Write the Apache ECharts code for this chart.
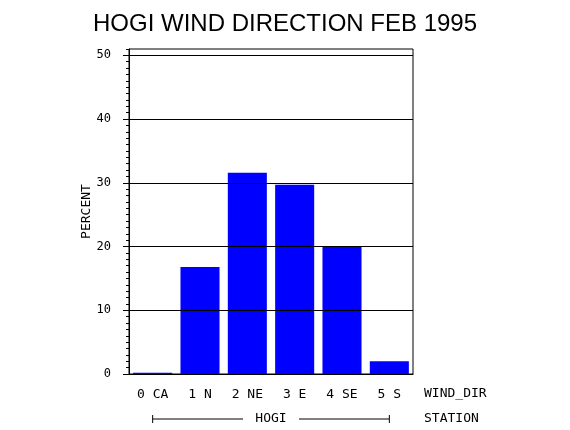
<!DOCTYPE html>
<html>
<head>
<meta charset="utf-8">
<script src="https://cdn.jsdelivr.net/npm/echarts@6/dist/echarts.min.js"></script>
<style>
  html, body { margin: 0; padding: 0; background: #fff; }
  #main { width: 570px; height: 430px; }
</style>
</head>
<body>
<div id="main"></div>
<script>
// wind direction categories and percent of observations
var categories = ['0 CA', '1 N', '2 NE', '3 E', '4 SE', '5 S'];
var percents = [0.2, 16.8, 31.6, 29.7, 20.1, 2.0];
var majorTicks = [0, 10, 20, 30, 40, 50];
var gridValues = [10, 20, 30, 40, 50];
var stationName = 'HOGI';

var smallFont = 'DejaVu Sans Mono';

var myChart = echarts.init(document.getElementById('main'));

myChart.setOption({
    backgroundColor: '#fff',
    animation: false,
    title: {
        text: 'HOGI WIND DIRECTION FEB 1995',
        left: 'center',
        top: 7,
        textStyle: {
            fontFamily: 'Liberation Sans',
            fontSize: 24,
            fontWeight: 'normal',
            color: '#000'
        }
    },
    grid: {
        left: 129,
        right: 157,
        top: 49,
        bottom: 56,
        show: true,
        borderColor: '#000',
        borderWidth: 1,
        backgroundColor: 'transparent'
    },
    xAxis: {
        type: 'category',
        data: categories,
        axisLine: {lineStyle: {color: '#000', width: 1}},
        axisTick: {show: false},
        axisLabel: {
            margin: 14,
            color: '#000',
            fontFamily: smallFont,
            fontSize: 13
        }
    },
    yAxis: [
        {
            type: 'value',
            min: 0,
            max: 51,
            interval: 10,
            name: 'PERCENT',
            nameLocation: 'middle',
            nameGap: 36,
            nameTextStyle: {
                color: '#000',
                fontFamily: smallFont,
                fontSize: 13
            },
            axisLine: {show: true, lineStyle: {color: '#000', width: 1}},
            axisTick: {
                show: true,
                length: 6,
                customValues: majorTicks,
                lineStyle: {color: '#000'}
            },
            axisLabel: {
                margin: 18,
                color: '#000',
                fontFamily: smallFont,
                fontSize: 12,
                customValues: majorTicks
            },
            splitLine: {show: false}
        },
        {
            // minor ticks every 1 percent
            type: 'value',
            min: 0,
            max: 51,
            interval: 1,
            position: 'left',
            axisLine: {show: false},
            axisTick: {show: true, length: 3, lineStyle: {color: '#000'}},
            axisLabel: {show: false},
            splitLine: {show: false}
        }
    ],
    series: [
        {
            name: 'PERCENT',
            type: 'bar',
            data: percents,
            barCategoryGap: '17.5%',
            itemStyle: {color: '#0000ff'},
            markLine: {
                silent: true,
                symbol: ['none', 'none'],
                label: {show: false},
                lineStyle: {color: '#000', type: 'solid', width: 1},
                data: gridValues.map(function (v) { return {yAxis: v}; })
            }
        }
    ]
});

// station bracket under the category labels
var x0 = myChart.convertToPixel({xAxisIndex: 0}, categories[0]);
var x1 = myChart.convertToPixel({xAxisIndex: 0}, categories[categories.length - 1]);
var xm = (x0 + x1) / 2;
var by = 419;
var textStyle = {fill: '#000', font: '13px "' + smallFont + '"', verticalAlign: 'middle'};

myChart.setOption({
    graphic: [
        {type: 'line', shape: {x1: x0, y1: by, x2: xm - 28, y2: by}, style: {stroke: '#000', lineWidth: 1}},
        {type: 'line', shape: {x1: xm + 28, y1: by, x2: x1, y2: by}, style: {stroke: '#000', lineWidth: 1}},
        {type: 'line', shape: {x1: x0, y1: by - 4, x2: x0, y2: by + 4}, style: {stroke: '#000', lineWidth: 1}},
        {type: 'line', shape: {x1: x1, y1: by - 4, x2: x1, y2: by + 4}, style: {stroke: '#000', lineWidth: 1}},
        {type: 'text', x: xm, y: by, style: Object.assign({text: stationName, align: 'center'}, textStyle)},
        {type: 'text', x: 424, y: 394, style: Object.assign({text: 'WIND_DIR', align: 'left'}, textStyle)},
        {type: 'text', x: 424, y: by, style: Object.assign({text: 'STATION', align: 'left'}, textStyle)}
    ]
});
</script>
</body>
</html>
